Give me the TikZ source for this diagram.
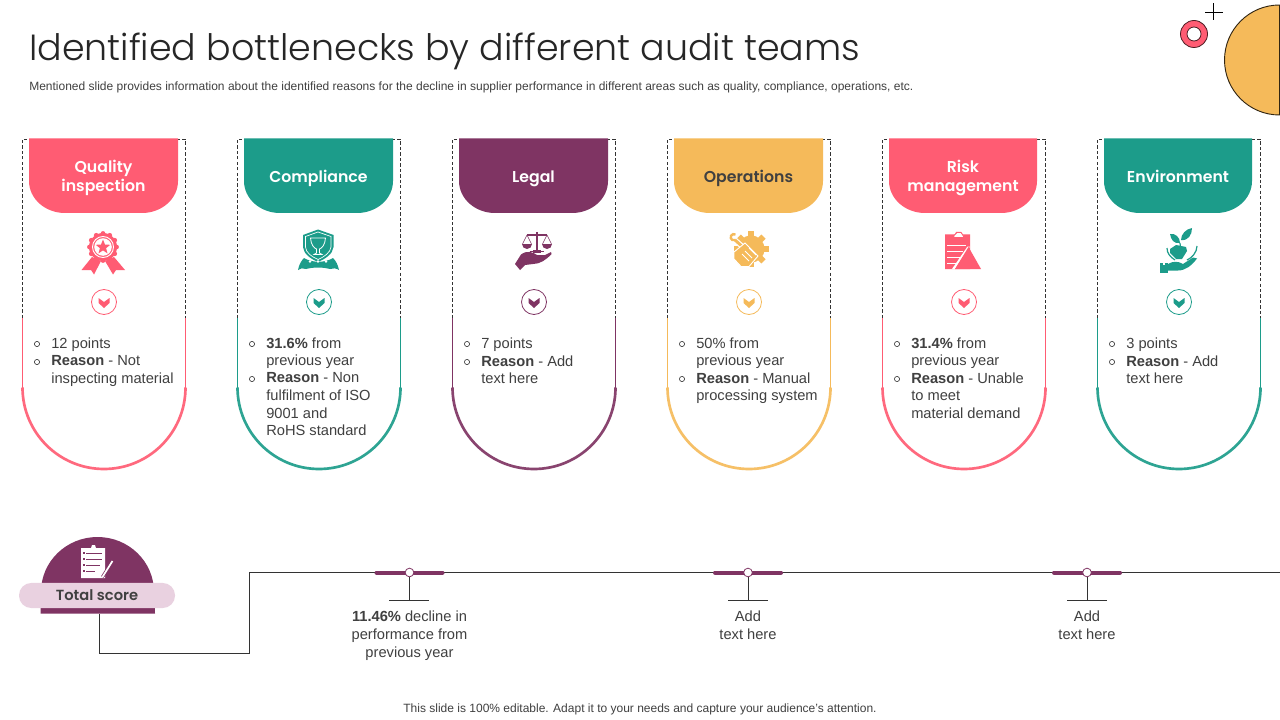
\documentclass[tikz,border=0pt]{standalone}
\usepackage{fontspec}
\setmainfont{Liberation Sans}
\newfontfamily\titlefont{Poppins Light}
\newfontfamily\headfont{Poppins SemiBold}
\definecolor{cpink}{HTML}{FF5C73}
\definecolor{cteal}{HTML}{1C9C8A}
\definecolor{cpurple}{HTML}{7F3463}
\definecolor{cyellow}{HTML}{F5BA5A}
\definecolor{cpill}{HTML}{E9D1E0}
\definecolor{ctext}{HTML}{404040}
\definecolor{cline}{HTML}{333333}
\pgfdeclarelayer{base}
\pgfdeclarelayer{links}
\pgfsetlayers{base,links,main}
\tikzset{
  headlabel/.style={font=\headfont\fontsize{11.8}{14.25}\selectfont,align=center,inner sep=0pt},
  bodytext/.style={font=\fontsize{11}{13.2}\selectfont,text=ctext,align=left,anchor=north west,inner sep=0pt},
  centertext/.style={font=\fontsize{11}{13.2}\selectfont,text=ctext,align=center,anchor=north,inner sep=0pt},
  smalltext/.style={font=\fontsize{9}{11}\selectfont,text=ctext,inner sep=0pt},
  marker/.style={circle,draw=cpurple,fill=white,line width=.6pt,minimum size=6.5pt,inner sep=0pt},
  linkline/.style={draw=cline,line width=.75pt},
}
% #1 frame left, #2 header left, #3 header right, #4 colour, #5 label colour, #6 label, #7 name
\newcommand{\cardframe}[7]{%
  \draw[black!80,dashed,dash pattern=on 2.5pt off 1.6pt,line width=.5pt] (#1+.5,318) -- (#1+.5,139) -- (#1+163.5,139) -- (#1+163.5,318);
  \fill[#4] (#2,138.5) -- (#2,181) arc[start angle=180,end angle=90,x radius=36,y radius=32] -- (#3-36,213) arc[start angle=90,end angle=0,x radius=36,y radius=32] -- (#3,138.5) -- cycle;
  \draw[#4,line width=.7pt] (#1+.5,318) -- (#1+.5,387.5);
  \draw[#4,line width=.7pt] (#1+163.5,318) -- (#1+163.5,387.5);
  \draw[#4!92!white,line width=2pt] (#1+.5,387.5) arc[start angle=180,end angle=0,radius=81.5];
  \node[headlabel,text=#5] (#7) at ({(#2+#3)/2},178.5) {#6};
  \draw[#4,fill=white,line width=.6pt] (#1+82,302) circle (12.5);
  \fill[#4] (#1+76.5,298) -- (#1+82,302) -- (#1+87.5,298) -- (#1+87.5,303) -- (#1+82,308) -- (#1+76.5,303) -- cycle;
}
% #1 frame left, #2 y of first line centre, #3 text, #4 name
\newcommand{\bulletitem}[4]{%
  \draw[ctext,line width=.5pt] (#1+15,#2+1) circle (2.6);
  \node[bodytext] (#4) at (#1+29,#2-5.5) {#3};
}
\begin{document}
\begin{tikzpicture}[x=.75pt,y=-.75pt]
\useasboundingbox (0,0) rectangle (1280,720);
\begin{pgfonlayer}{base}
\fill[white] (0,0) rectangle (1280,720);
\end{pgfonlayer}

% decoration top right
\draw[fill=cyellow,draw=black!80!cyellow,line width=.7pt] (1279.5,5) arc[start angle=-90,end angle=-270,radius=55] -- cycle;
\draw[fill=cpink,draw=black!70!cpink,line width=.6pt] (1194,34) circle (13.5);
\draw[fill=white,draw=black!70!cpink,line width=.6pt] (1194,34) circle (7);
\draw[black,line width=.6pt] (1205,12.5) -- (1223,12.5) (1213.5,3.5) -- (1213.5,20);

% title
\node[font=\titlefont\fontsize{27.3}{32}\selectfont,text=black!85,anchor=base west,inner sep=0pt] (title) at (29,60.5) {Identified bottlenecks by different audit teams};
\node[smalltext,anchor=west] (subtitle) at (29,87.5) {Mentioned slide provides information about the identified reasons for the decline in supplier performance in different areas such as quality, compliance, operations, etc.};

% cards
\cardframe{22}{29}{178}{cpink}{white}{\strut Quality\\\strut inspection}{head1}
\cardframe{237}{244}{393}{cteal}{white}{\strut Compliance}{head2}
\cardframe{452}{459}{608}{cpurple}{white}{\strut Legal}{head3}
\cardframe{667}{674}{823}{cyellow}{black!75}{\strut Operations}{head4}
\cardframe{882}{889}{1037}{cpink}{white}{\strut Risk\\\strut management}{head5}
\cardframe{1097}{1104}{1252}{cteal}{white}{\strut Environment}{head6}

\bulletitem{22}{343}{12 points}{t1a}
\bulletitem{22}{361}{\textbf{Reason} - Not\\inspecting material}{t1b}
\bulletitem{237}{343}{\textbf{31.6\%} from\\previous year}{t2a}
\bulletitem{237}{378}{\textbf{Reason} - Non\\fulfilment of ISO\\9001 and\\RoHS standard}{t2b}
\bulletitem{452}{343}{7 points}{t3a}
\bulletitem{452}{361}{\textbf{Reason} - Add\\text here}{t3b}
\bulletitem{667}{343}{50\% from\\previous year}{t4a}
\bulletitem{667}{378}{\textbf{Reason} - Manual\\processing system}{t4b}
\bulletitem{882}{343}{\textbf{31.4\%} from\\previous year}{t5a}
\bulletitem{882}{378}{\textbf{Reason} - Unable\\to meet\\material demand}{t5b}
\bulletitem{1097}{343}{3 points}{t6a}
\bulletitem{1097}{361}{\textbf{Reason} - Add\\text here}{t6b}

% medal icon
\fill[cpink] (92,257) -- (81.5,270) -- (91,270) -- (94,274.5) -- (101,261) -- cycle;
\fill[cpink] (114,257) -- (125,270) -- (116,270) -- (113,274.5) -- (105,261) -- cycle;
\foreach \a in {0,30,...,330}{\fill[cpink] (103+13.5*cos \a,247+13.5*sin \a) circle (2.4);}
\fill[cpink] (103,247) circle (14);
\draw[white,line width=.7pt] (103,247) circle (10.5);
\fill[white] (103,247) circle (8.8);
\fill[cpink] (103,239.5) -- (105,244.6) -- (110.2,244.8) -- (106.1,248.2) -- (107.5,253.4) -- (103,250.4) -- (98.5,253.4) -- (99.9,248.2) -- (95.8,244.8) -- (101,244.6) -- cycle;

% trophy shield icon
\fill[cteal] (318,229.5) -- (333.5,235) -- (333.5,247) .. controls (333,254) and (325,259) .. (318,262) .. controls (311,259) and (303.5,254) .. (303,247) -- (303,235) -- cycle;
\draw[white,line width=.5pt] (318,232) -- (331,236.5) -- (331,247) .. controls (330.5,252.5) and (324,257) .. (318,259.5) .. controls (312,257) and (305.7,252.5) .. (305.5,247) -- (305.5,236.5) -- cycle;
\draw[white,line width=.6pt] (310.5,238) -- (325.5,238) .. controls (325,245) and (322,248) .. (319.5,249) -- (319.5,253) -- (322,254.5) -- (314,254.5) -- (316.5,253) -- (316.5,249) .. controls (314,248) and (311,245) .. (310.5,238) -- cycle;
\fill[cteal] (298,270) .. controls (299,264) and (302,260) .. (304,258) .. controls (312,263) and (325,263) .. (333,258) .. controls (336,261) and (338,265) .. (339,270) .. controls (336,268) and (333,268) .. (330,269) .. controls (322,267) and (314,267) .. (306,269) .. controls (303,268) and (300,268) .. (298,270) -- cycle;
\foreach \p in {310,318,326}{\fill[white] (\p,261.5) circle (1.3);}

% scales and hand icon
\draw[cpurple,line width=.9pt] (537,232) -- (537,251) (530,251.5) -- (544,251.5);
\fill[cpurple] (533,250) rectangle (541,252.5);
\draw[cpurple,line width=.8pt] (527,235) -- (547,235);
\draw[cpurple,line width=.4pt] (527,235) -- (522.5,244) (527,235) -- (531.5,244) (547,235) -- (542.5,244) (547,235) -- (551.5,244);
\fill[cpurple] (522,244) -- (532,244) arc[start angle=0,end angle=180,radius=5] -- cycle;
\fill[cpurple] (542,244) -- (552,244) arc[start angle=0,end angle=180,radius=5] -- cycle;
\fill[cpurple] (521,254.5) .. controls (527,250) and (533,252) .. (537,255) -- (545,255) -- (551,252) -- (551.5,254) .. controls (546,260) and (540,264) .. (533,264) -- (525,265) -- (520,270) -- (515,264) -- cycle;

% gear and wrench icon
\foreach \a in {0,45,...,315}{\fill[cyellow,rotate around={\a:(751,249)}] (748,231.5) rectangle (754,238);}
\fill[cyellow] (751,249) circle (13.5);
\draw[white,line width=4pt] (735,240) -- (745,249);
\draw[cyellow,line width=2.2pt] (735,240) -- (745,249);
\draw[cyellow,line width=1.8pt] (735.5,234.5) arc[start angle=-60,end angle=-300,radius=3.2];
\fill[cyellow,draw=white,line width=.7pt] (734,252) -- (745,243) -- (758,256) -- (749,266.5) -- (741,266.5) -- (734,259) -- cycle;
\draw[white,line width=.7pt] (745,251) -- (752,258) (749,248) -- (756,255) (742,254) -- (749,261);

% clipboard and triangle icon
\fill[cpink] (945,234.5) -- (955,234.5) -- (956,232) -- (961,232) -- (963,234.5) -- (970,234.5) -- (970,269) -- (945,269) -- cycle;
\draw[cpink,fill=white,line width=.6pt] (954,235.5) -- (957,232.5) -- (961,232.5) -- (963,235.5) -- (964,237.5) -- (954,237.5) -- cycle;
\fill[white] (967.5,246.5) -- (970,246.5) -- (955,269) -- (952,269) -- cycle;
\fill[cpink] (968.5,247) -- (981,269) -- (955,269) -- cycle;
\draw[white,line width=.5pt] (947,245) -- (966,245) (947,251) -- (963,251) (947,257) -- (960,257) (947,263) -- (956,263);

% plant and hand icon
\fill[cteal] (1180,243) .. controls (1180,237) and (1175,233) .. (1170,234) .. controls (1171,240) and (1174,244) .. (1180,243) -- cycle;
\fill[cteal] (1181,240) .. controls (1181,234) and (1186,229) .. (1192,228) .. controls (1192,235) and (1188,241) .. (1181,240) -- cycle;
\draw[cteal,line width=.9pt] (1180,243) -- (1180.5,248);
\fill[cteal] (1170,249) -- (1176,245) -- (1186,247) -- (1187,251) -- (1182,259) -- (1176,259) -- (1170,253) -- cycle;
\draw[cteal,line width=.9pt] (1167,248) .. controls (1167,253) and (1170,257) .. (1175,260) (1197,246) .. controls (1197,252) and (1192,258) .. (1187,260);
\fill[cteal] (1160,263) rectangle (1168,273);
\fill[cteal] (1168,264) .. controls (1173,261) and (1178,261) .. (1183,264) -- (1193,257.5) -- (1197,258.5) .. controls (1192,265) and (1186,270.5) .. (1178,270.5) -- (1168,270.5) -- cycle;
\fill[white] (1163,262.5) rectangle (1165,265);

% score badge
\fill[cpurple] (40.5,613.5) -- (41,592) arc[start angle=180,end angle=360,x radius=56.5,y radius=55] -- (155,613.5) -- cycle;
\node[fill=cpill,rounded corners=9.2pt,minimum width=117pt,minimum height=18.8pt,inner sep=0pt,font=\headfont\fontsize{11}{13}\selectfont,text=black!75] (score) at (97,595.5) {Total score};
\coordinate (scorefoot) at (99,613.5);
% clipboard on badge
\fill[white] (81,548) -- (91,548) -- (92,545) -- (95,545) -- (96,548) -- (105,548) -- (105,578) -- (81,578) -- cycle;
\draw[cpurple,line width=.4pt] (86,553) -- (102,553) (86,559) -- (102,559) (86,565) -- (100,565) (86,571) -- (95,571);
\foreach \q in {553,559,565,571}{\fill[cpurple] (83,\q-1) rectangle (85,\q+1);}
\draw[cpurple,line width=2.4pt] (102.5,577) -- (112.5,561);
\draw[white,line width=1.3pt] (102.5,577) -- (112.5,561);

% timeline
\coordinate (bendA) at (99,653);
\coordinate (bendB) at (249,653);
\coordinate (bendC) at (249,572.5);
\coordinate (lineend) at (1280,572.5);
\foreach \p in {409.5,748,1087}{
  \draw[cpurple,line width=3pt,line cap=round] (\p-33,572.5) -- (\p+33,572.5);
}
\node[marker] (m1) at (409.5,572.5) {};
\node[marker] (m2) at (748,572.5) {};
\node[marker] (m3) at (1087,572.5) {};
\begin{pgfonlayer}{links}
\draw[linkline] (scorefoot) -- (bendA) -- (bendB) -- (bendC) -- (m1);
\draw[linkline] (m1) -- (m2);
\draw[linkline] (m2) -- (m3);
\draw[linkline] (m3) -- (lineend);
\end{pgfonlayer}
\coordinate (s1) at (409.5,600.5);
\coordinate (s2) at (748,600.5);
\coordinate (s3) at (1087,600.5);
\draw[linkline] (m1) -- (s1) (389,600.5) -- (429,600.5);
\draw[linkline] (m2) -- (s2) (728,600.5) -- (768,600.5);
\draw[linkline] (m3) -- (s3) (1067,600.5) -- (1107,600.5);
\node[centertext] (l1) at (409.5,611) {\textbf{11.46\%} decline in\\performance from\\previous year};
\node[centertext] (l2) at (748,611) {Add\\text here};
\node[centertext] (l3) at (1087,611) {Add\\text here};

% footer
\node[smalltext] (footer) at (640,709) {This slide is 100\% editable. Adapt it to your needs and capture your audience's attention.};
\end{tikzpicture}
\end{document}
